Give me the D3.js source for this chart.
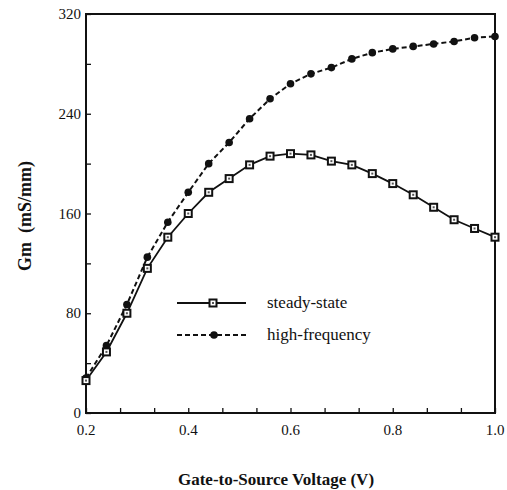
<!DOCTYPE html>
<html>
<head>
<meta charset="utf-8">
<script src="https://cdn.jsdelivr.net/npm/d3@7"></script>
<style>
  body { margin: 0; background: #fff; }
  svg { display: block; }
  text { font-family: "Liberation Serif", "Times New Roman", "DejaVu Serif", serif; }
</style>
</head>
<body>
<div id="vis"></div>
<script>
// gate voltage (V), one sample every 0.04 V
var vgs = [0.20, 0.24, 0.28, 0.32, 0.36, 0.40, 0.44, 0.48, 0.52, 0.56, 0.60,
           0.64, 0.68, 0.72, 0.76, 0.80, 0.84, 0.88, 0.92, 0.96, 1.00];
var steadyState = [26, 49, 80, 116, 141, 160, 177, 188, 199, 206, 208,
                   207, 202, 199, 192, 184, 175, 165, 155, 148, 141];
var highFrequency = [28, 54, 87, 125, 153, 177, 200, 217, 236, 252, 264,
                     272, 277, 284, 289, 292, 294, 296, 298, 301, 302];
var xTickLabels = [0.2, 0.4, 0.6, 0.8, 1.0];
var yTickLabels = [0, 80, 160, 240, 320];
var legendNames = ["steady-state", "high-frequency"];

var width = 507, height = 490;
var margin = { left: 86, right: 12, top: 14, bottom: 77 };

var svg = d3.select("#vis")
            .append("svg")
            .attr("width", width)
            .attr("height", height);

var x = d3.scaleLinear().domain([0.2, 1.0]).range([margin.left, width - margin.right]);
var y = d3.scaleLinear().domain([0, 320]).range([height - margin.bottom, margin.top]);

// frame
svg.append("rect")
    .attr("x", x(0.2))
    .attr("y", y(320))
    .attr("width", x(1.0) - x(0.2))
    .attr("height", y(0) - y(320))
    .attr("fill", "none")
    .attr("stroke", "#111")
    .attr("stroke-width", 2);

// minor ticks every 1/3 of a label step on x, half a step on y
var xTicks = d3.range(0, 13).map(i => 0.2 + i * 0.2 / 3);
var yTicks = d3.range(0, 9).map(i => i * 40);

var xAxis = svg.append("g")
    .attr("transform", "translate(0," + y(0) + ")")
    .call(d3.axisTop(x).tickValues(xTicks).tickSize(5).tickFormat(""));
var yAxis = svg.append("g")
    .attr("transform", "translate(" + x(0.2) + ",0)")
    .call(d3.axisRight(y).tickValues(yTicks).tickSize(5).tickFormat(""));
[xAxis, yAxis].forEach(a => {
    a.select(".domain").remove();
    a.selectAll("line").attr("stroke", "#111").attr("stroke-width", 1.3);
});

svg.selectAll(".xlab")
    .data(xTickLabels)
    .enter().append("text")
    .attr("x", d => x(d))
    .attr("y", y(0) + 22)
    .attr("text-anchor", "middle")
    .style("font-size", "15px")
    .attr("fill", "#111")
    .text(d => d.toFixed(1));

svg.selectAll(".ylab")
    .data(yTickLabels)
    .enter().append("text")
    .attr("x", x(0.2) - 5)
    .attr("y", d => y(d) + 5)
    .attr("text-anchor", "end")
    .style("font-size", "15px")
    .attr("fill", "#111")
    .text(d => d);

// axis titles
svg.append("text")
    .attr("x", 276)
    .attr("y", 485)
    .attr("text-anchor", "middle")
    .style("font-size", "17px")
    .style("font-weight", "bold")
    .attr("fill", "#111")
    .text("Gate-to-Source Voltage (V)");

svg.append("text")
    .attr("transform", "translate(31,216) rotate(-90)")
    .attr("text-anchor", "middle")
    .style("font-size", "18px")
    .style("font-weight", "bold")
    .style("white-space", "pre")
    .attr("fill", "#111")
    .text("Gm  (mS/mm)");

var line = d3.line()
    .x((d, i) => x(vgs[i]))
    .y(d => y(d));

function drawSquare(g, cx, cy) {
    g.append("rect")
        .attr("x", cx - 3.5).attr("y", cy - 3.5)
        .attr("width", 7).attr("height", 7)
        .attr("fill", "#fff")
        .attr("stroke", "#111")
        .attr("stroke-width", 2);
    g.append("rect")
        .attr("x", cx - 1).attr("y", cy - 1)
        .attr("width", 2).attr("height", 2)
        .attr("fill", "#555");
}

function drawDot(g, cx, cy) {
    g.append("circle")
        .attr("cx", cx).attr("cy", cy)
        .attr("r", 3.8)
        .attr("fill", "#111");
}

// high-frequency (dashed, filled circles)
svg.append("path")
    .attr("d", line(highFrequency))
    .attr("fill", "none")
    .attr("stroke", "#111")
    .attr("stroke-width", 2)
    .attr("stroke-dasharray", "5,3");
var hfG = svg.append("g");
highFrequency.forEach((d, i) => drawDot(hfG, x(vgs[i]), y(d)));

// steady-state (solid, open squares)
svg.append("path")
    .attr("d", line(steadyState))
    .attr("fill", "none")
    .attr("stroke", "#111")
    .attr("stroke-width", 1.8);
var ssG = svg.append("g");
steadyState.forEach((d, i) => drawSquare(ssG, x(vgs[i]), y(d)));

// legend
var legend = svg.append("g");
var legY = [303, 335];
legendNames.forEach((name, i) => {
    legend.append("line")
        .attr("x1", 177).attr("x2", 246)
        .attr("y1", legY[i]).attr("y2", legY[i])
        .attr("stroke", "#111")
        .attr("stroke-width", 2)
        .attr("stroke-dasharray", i === 1 ? "5,3" : null);
    if (i === 0) drawSquare(legend, 213, legY[i]);
    else drawDot(legend, 214, legY[i]);
    legend.append("text")
        .attr("x", 267)
        .attr("y", legY[i] + 5)
        .style("font-size", "17px")
        .attr("fill", "#111")
        .text(name);
});
</script>
</body>
</html>
